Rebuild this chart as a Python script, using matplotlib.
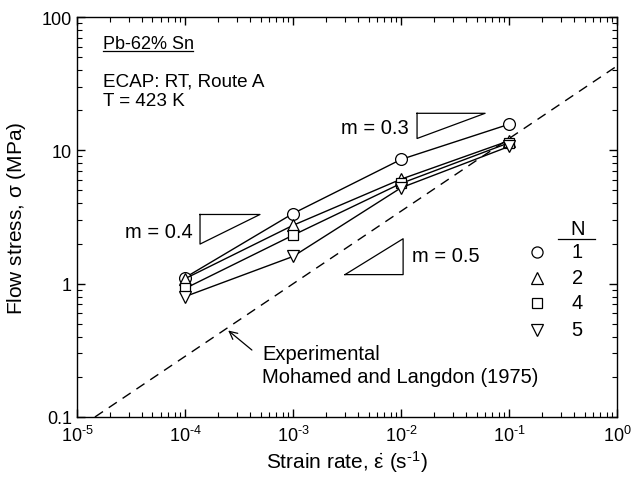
import matplotlib
matplotlib.use('Agg')
import matplotlib.pyplot as plt
from matplotlib.ticker import FixedLocator, FixedFormatter, LogLocator, NullFormatter

plt.rcParams['font.family'] = ['Liberation Sans', 'DejaVu Sans']
plt.rcParams['mathtext.fontset'] = 'custom'
plt.rcParams['mathtext.rm'] = 'Liberation Sans'
plt.rcParams['mathtext.it'] = 'Liberation Sans'
plt.rcParams['mathtext.bf'] = 'Liberation Sans:bold'
plt.rcParams['axes.unicode_minus'] = False

# data
strain_rate = [1e-4, 1e-3, 1e-2, 1e-1]
passes = ['1', '2', '4', '5']
markers = ['o', '^', 's', 'v']
stress = {
    '1': [1.11, 3.36, 8.55, 15.7],
    '2': [1.09, 2.74, 6.08, 11.8],
    '4': [0.92, 2.31, 5.65, 11.4],
    '5': [0.80, 1.60, 5.24, 10.7],
}
# experimental line (Mohamed and Langdon, 1975)
exp_rate = [10**-4.834, 1.0]
exp_stress = [0.1, 43.0]
x_tick_exp = ['-5', '-4', '-3', '-2', '-1', '0']

fig = plt.figure(figsize=(6.31, 4.81), dpi=100)
ax = fig.add_axes([0.122, 0.131, 0.856, 0.8315])

ax.plot(exp_rate, exp_stress, color='black', lw=1, ls=(0, (7, 5)))

for n, m in zip(passes, markers):
    ax.plot(strain_rate, stress[n], color='black', lw=1, marker=m,
            ms=8.5 if m != 's' else 7.5, mfc='white', mec='black', mew=0.9)

ax.set_xscale('log')
ax.set_yscale('log')
ax.set_xlim(1e-5, 1)
ax.set_ylim(0.1, 100)

ax.xaxis.set_major_locator(FixedLocator([1e-5, 1e-4, 1e-3, 1e-2, 1e-1, 1]))
ax.xaxis.set_major_formatter(FixedFormatter([r'$10^{\text{%s}}$' % e for e in x_tick_exp]))
ax.yaxis.set_major_locator(FixedLocator([0.1, 1, 10, 100]))
ax.yaxis.set_major_formatter(FixedFormatter(['0.1', '1', '10', '100']))
for a in (ax.xaxis, ax.yaxis):
    a.set_minor_locator(LogLocator(base=10, subs=range(2, 10), numticks=20))
    a.set_minor_formatter(NullFormatter())

ax.tick_params(which='both', direction='in', top=True, right=True, labelsize=13)
ax.tick_params(which='major', length=6, width=1)
ax.tick_params(which='minor', length=3.5, width=0.8)
ax.tick_params(axis='x', pad=6)
for s in ax.spines.values():
    s.set_linewidth(1)

ax.set_xlabel(r'Strain rate, $\dot{\varepsilon}$ (s$^{\text{-1}}$)', fontsize=15, labelpad=2)
ax.set_ylabel(r'Flow stress, $\sigma$ (MPa)', fontsize=15, labelpad=10)

# sample info
ax.text(10**-4.759, 10**1.805, 'Pb-62% Sn', fontsize=13, ha='left', va='center')
ax.plot([10**-4.759, 10**-3.926], [10**1.744, 10**1.744], color='black', lw=0.9)
ax.text(10**-4.759, 10**1.519, 'ECAP: RT, Route A', fontsize=13.6, ha='left', va='center')
ax.text(10**-4.759, 10**1.376, 'T = 423 K', fontsize=13.6, ha='left', va='center')

# slope triangles
def slope_triangle(x0, x1, y, m, corner):
    dx = x1 - x0
    if corner == 'top':
        xs = [x0, x1, x0, x0]
        ys = [y, y, y - m * dx, y]
    else:
        xs = [x0, x1, x1, x0]
        ys = [y, y, y + m * dx, y]
    ax.plot([10**v for v in xs], [10**v for v in ys], color='black', lw=0.9)

slope_triangle(-1.852, -1.222, 1.278, 0.3, 'top')
slope_triangle(-3.861, -3.306, 0.519, 0.4, 'top')
slope_triangle(-2.519, -1.981, 0.068, 0.5, 'bottom')
ax.text(10**-1.93, 10**1.173, 'm = 0.3', fontsize=14.5, ha='right', va='center')
ax.text(10**-3.93, 10**0.391, 'm = 0.4', fontsize=14.5, ha='right', va='center')
ax.text(10**-1.898, 10**0.211, 'm = 0.5', fontsize=14.5, ha='left', va='center')

# experimental annotation
ax.annotate('', xy=(10**-3.62, 10**-0.338), xytext=(10**-3.361, 10**-0.511),
            arrowprops=dict(arrowstyle='->', color='black', lw=0.9,
                            mutation_scale=14))
ax.text(10**-3.287, 10**-0.526, 'Experimental', fontsize=14.5, ha='left', va='center')
ax.text(10**-3.287, 10**-0.699, 'Mohamed and Langdon (1975)', fontsize=14.5,
        ha='left', va='center')

# legend drawn by hand
leg_x = 10**-0.741
leg_tx = 10**-0.370
leg_y = [10**0.241, 10**0.045, 10**-0.143, 10**-0.346]
ax.text(leg_tx, 10**0.414, 'N', fontsize=14.5, ha='center', va='center')
ax.plot([10**-0.546, 10**-0.204], [10**0.338, 10**0.338], color='black', lw=0.9)
for n, m, y in zip(passes, markers, leg_y):
    ax.plot([leg_x], [y], marker=m, ms=8 if m != 's' else 7, mfc='white',
            mec='black', mew=0.9, ls='none')
    ax.text(leg_tx, y, n, fontsize=14.5, ha='center', va='center')

fig.savefig('out.png', dpi=100)
